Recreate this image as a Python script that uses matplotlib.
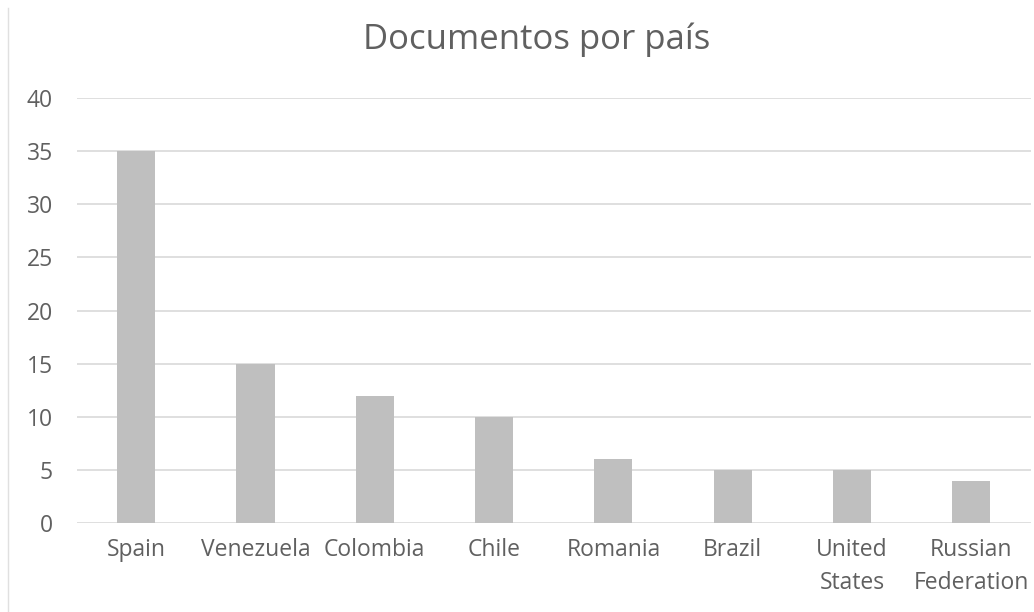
import matplotlib
matplotlib.use('Agg')
import matplotlib.pyplot as plt
from matplotlib.lines import Line2D

# Data
countries = ["Spain", "Venezuela", "Colombia", "Chile", "Romania", "Brazil",
             "United\nStates", "Russian\nFederation"]
documents = [35, 15, 12, 10, 6, 5, 5, 4]
y_ticks = [0, 5, 10, 15, 20, 25, 30, 35, 40]

plt.rcParams['font.family'] = ['Open Sans', 'DejaVu Sans']
text_color = '#606060'

fig = plt.figure(figsize=(10.34, 6.12), dpi=100)
ax = fig.add_axes([76.5 / 1034, 89 / 612, (1031 - 76.5) / 1034, (523 - 98) / 612])

x = range(len(countries))
ax.bar(x, documents, width=0.32, color='#bfbfbf', zorder=3)

ax.set_xlim(-0.5, len(countries) - 0.5)
ax.set_ylim(0, 40)
ax.set_yticks(y_ticks)
ax.set_xticks(list(x))
ax.set_xticklabels(countries, linespacing=1.55)
ax.tick_params(axis='both', length=0, labelsize=16.5, colors=text_color)
ax.tick_params(axis='y', pad=17)
ax.tick_params(axis='x', pad=10.5)
ax.grid(axis='y', color='#d9d9d9', linewidth=1.2, zorder=0)
for s in ax.spines.values():
    s.set_visible(False)

fig.text(537 / 1034, 1 - 40 / 612, "Documentos por país", ha='center', va='center',
         fontsize=25, color=text_color)

# chart frame edge on the left
fig.add_artist(Line2D([8 / 1034, 8 / 1034], [0, 1 - 8 / 612],
                      transform=fig.transFigure, color='#e0e0e0', linewidth=1))

plt.savefig('out.png', dpi=100, facecolor='white')
